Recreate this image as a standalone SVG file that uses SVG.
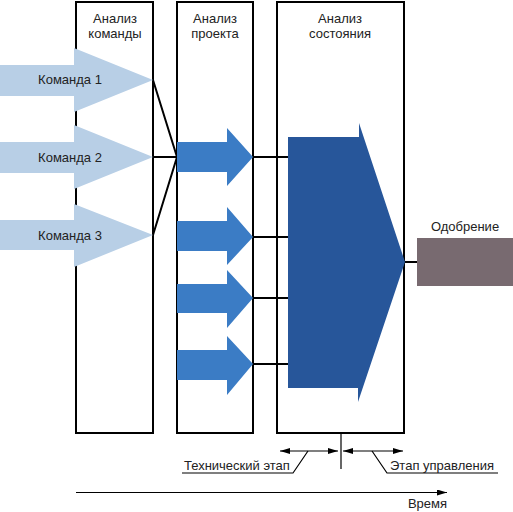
<svg xmlns="http://www.w3.org/2000/svg" width="513" height="512" viewBox="0 0 513 512">
<defs>
<style>
.col{fill:#fff;stroke:#000;stroke-width:2}
.ln{stroke:#000;stroke-width:2;fill:none}
.thin{stroke:#000;stroke-width:1.2;fill:none}
.t{font-family:"Liberation Sans",Arial,sans-serif;font-size:13px;fill:#222}
.cmd{fill:#b8cfe6}
.proj{fill:#3b7cc5}
</style>
<marker id="ah" viewBox="0 0 10 6" refX="10" refY="3" markerWidth="10" markerHeight="6" markerUnits="userSpaceOnUse" orient="auto-start-reverse">
<path d="M0,0 L10,3 L0,6 Z" fill="#000"/>
</marker>
</defs>
<rect width="513" height="512" fill="#fff"/>
<g id="col-cmd">
<rect class="col" x="76" y="2" width="77" height="431"/>
<text class="t" x="115" y="23" text-anchor="middle">Анализ</text>
<text class="t" x="115" y="38" text-anchor="middle">команды</text>
</g>
<g id="col-proj">
<rect class="col" x="177" y="2" width="76" height="431"/>
<text class="t" x="215" y="23" text-anchor="middle">Анализ</text>
<text class="t" x="215" y="38" text-anchor="middle">проекта</text>
</g>
<g id="col-state">
<rect class="col" x="277" y="2" width="127" height="431"/>
<text class="t" x="340" y="23" text-anchor="middle">Анализ</text>
<text class="t" x="340" y="38" text-anchor="middle">состояния</text>
</g>
<g id="connectors">
<path class="ln" d="M153,80 L177,157 M153,157 L177,157 M153,235 L177,157"/>
<path class="ln" d="M253,157 L290,157 M253,237 L290,237 M253,298 L290,298 M253,364 L290,364"/>
<path class="ln" d="M404,262 L418,262"/>
<path class="thin" d="M341,433 L341,469"/>
<path class="thin" d="M338,451 L280,451" marker-start="url(#ah)" marker-end="url(#ah)"/>
<path class="thin" d="M343,451 L403,451" marker-start="url(#ah)" marker-end="url(#ah)"/>
<path class="thin" d="M308,451 L293,473 L182,473"/>
<path class="thin" d="M372,451 L387,473 L498,473"/>
<path class="thin" d="M76,492.5 L447,492.5" marker-end="url(#ah)"/>
</g>
<g id="cmd1">
<polygon class="cmd" points="0,65 74,65 74,48 153,80 74,112 74,96 0,96"/>
<text class="t" x="70" y="84" text-anchor="middle">Команда 1</text>
</g>
<g id="cmd2">
<polygon class="cmd" points="0,142 74,142 74,125 153,157 74,189 74,173 0,173"/>
<text class="t" x="70" y="162" text-anchor="middle">Команда 2</text>
</g>
<g id="cmd3">
<polygon class="cmd" points="0,220 74,220 74,204 153,235 74,267 74,250 0,250"/>
<text class="t" x="70" y="240" text-anchor="middle">Команда 3</text>
</g>
<g id="proj1"><polygon class="proj" points="177,142 227,142 227,128 253,157 227,186 227,172 177,172"/></g>
<g id="proj2"><polygon class="proj" points="177,221 227,221 227,207 253,237 227,265 227,251 177,251"/></g>
<g id="proj3"><polygon class="proj" points="177,284 227,284 227,270 253,298 227,328 227,313 177,313"/></g>
<g id="proj4"><polygon class="proj" points="177,350 227,350 227,336 253,364 227,395 227,380 177,380"/></g>
<g id="state"><polygon fill="#27569a" points="288,137 359,137 359,123 405,262 358,402 358,388 288,388"/></g>
<g id="approval">
<rect x="417" y="238" width="96" height="48" fill="#786a70"/>
<text class="t" x="465" y="231" text-anchor="middle">Одобрение</text>
</g>
<g id="labels">
<text class="t" x="184" y="470">Технический этап</text>
<text class="t" x="390" y="470">Этап управления</text>
<text class="t" x="447" y="508" text-anchor="end">Время</text>
</g>
</svg>
